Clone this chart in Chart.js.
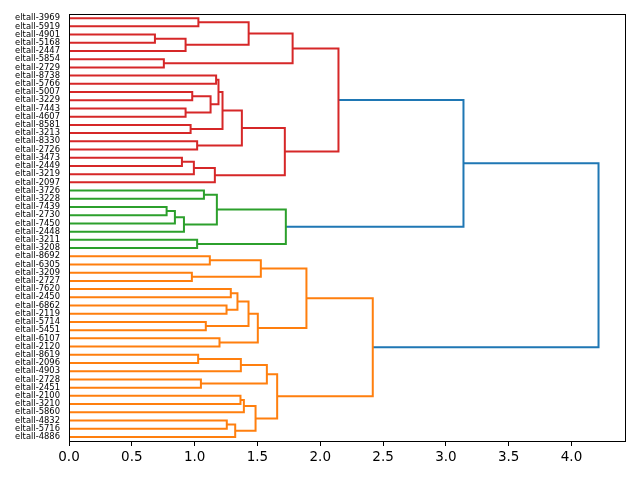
<!DOCTYPE html>
<html lang="en">
  <head>
    <meta charset="UTF-8" />
    <script src="https://cdn.jsdelivr.net/npm/chart.js"></script>
    <title>Dendrogram</title>
    <style>
      body { margin: 0; background: #fff; }
    </style>
  </head>
  <body>
    <canvas id="dendro" width="640" height="480"></canvas>
    <script>
      // leaves, top to bottom
      const leafLabels = [
        "eltall-3969", "eltall-5919", "eltall-4901", "eltall-5168", "eltall-2447",
        "eltall-5854", "eltall-2729", "eltall-8738", "eltall-5766", "eltall-5007",
        "eltall-3229", "eltall-7443", "eltall-4607", "eltall-8581", "eltall-3213",
        "eltall-8330", "eltall-2726", "eltall-3473", "eltall-2449", "eltall-3219",
        "eltall-2097", "eltall-3726", "eltall-3228", "eltall-7439", "eltall-2730",
        "eltall-7450", "eltall-2448", "eltall-3211", "eltall-3208", "eltall-8692",
        "eltall-6305", "eltall-3209", "eltall-2727", "eltall-7620", "eltall-2450",
        "eltall-6862", "eltall-2119", "eltall-5714", "eltall-5451", "eltall-6107",
        "eltall-2120", "eltall-8619", "eltall-2096", "eltall-4903", "eltall-2728",
        "eltall-2451", "eltall-2100", "eltall-3210", "eltall-5860", "eltall-4832",
        "eltall-5716", "eltall-4886"
      ];

      // merges: node ids 0..51 are leaves, merge k creates node 52+k
      const mergeLeft = [
        0, 2, 53, 52, 5, 55, 7, 9, 11, 59, 58, 13, 62, 15, 64, 17, 67, 68, 66, 57,
        21, 23, 73, 74, 72, 27, 76, 71,
        29, 31, 80, 33, 35, 83, 37, 85, 39, 87, 82, 41, 91, 44, 92, 46, 95, 49, 97, 96, 94, 90,
        79
      ];
      const mergeRight = [
        1, 3, 4, 54, 6, 56, 8, 10, 12, 60, 61, 14, 63, 16, 65, 18, 19, 20, 69, 70,
        22, 24, 25, 26, 75, 28, 77, 78,
        30, 32, 81, 34, 36, 84, 38, 86, 40, 88, 89, 42, 43, 45, 93, 47, 48, 50, 51, 98, 99, 100,
        101
      ];
      const mergeHeight = [
        1.03, 0.684, 0.928, 1.43, 0.755, 1.78, 1.171, 0.981, 0.928, 1.127, 1.19, 0.968, 1.222, 1.02, 1.376, 0.899, 0.994, 1.161, 1.718, 2.145,
        1.074, 0.777, 0.843, 0.915, 1.177, 1.02, 1.726, 3.14,
        1.121, 0.978, 1.527, 1.288, 1.254, 1.341, 1.089, 1.429, 1.198, 1.503, 1.89, 1.028, 1.368, 1.05, 1.575, 1.365, 1.392, 1.256, 1.323, 1.485, 1.657, 2.418,
        4.215
      ];
      const mergeGroup = [
        "r", "r", "r", "r", "r", "r", "r", "r", "r", "r", "r", "r", "r", "r", "r", "r", "r", "r", "r", "r",
        "g", "g", "g", "g", "g", "g", "g", "b",
        "o", "o", "o", "o", "o", "o", "o", "o", "o", "o", "o", "o", "o", "o", "o", "o", "o", "o", "o", "o", "o", "o",
        "b"
      ];

      const groupColors = { r: "#d62728", g: "#2ca02c", o: "#ff7f0e", b: "#1f77b4" };

      const n = leafLabels.length;
      const pos = leafLabels.map((_, i) => 10 * i + 5);
      const hgt = leafLabels.map(() => 0);
      const datasets = [];
      mergeHeight.forEach((h, k) => {
        const a = mergeLeft[k], b = mergeRight[k];
        pos.push((pos[a] + pos[b]) / 2);
        hgt.push(h);
        datasets.push({
          data: [
            { x: hgt[a], y: pos[a] },
            { x: h, y: pos[a] },
            { x: h, y: pos[b] },
            { x: hgt[b], y: pos[b] },
          ],
          borderColor: groupColors[mergeGroup[k]],
          borderWidth: 2,
          showLine: true,
          pointRadius: 0,
          fill: false,
          tension: 0,
        });
      });

      const frame = {
        id: "frame",
        afterDraw(chart) {
          const { ctx, chartArea: a } = chart;
          ctx.save();
          ctx.strokeStyle = "#000";
          ctx.lineWidth = 1;
          ctx.strokeRect(Math.round(a.left) + 0.5, Math.round(a.top) + 0.5,
            Math.round(a.right - a.left), Math.round(a.bottom - a.top));
          ctx.restore();
        },
      };

      new Chart(document.getElementById("dendro"), {
        type: "scatter",
        data: { datasets },
        plugins: [frame],
        options: {
          responsive: false,
          animation: false,
          layout: { padding: { left: 0, right: 15, top: 14, bottom: 0 } },
          plugins: { legend: { display: false }, tooltip: { enabled: false } },
          scales: {
            x: {
              type: "linear",
              min: 0,
              max: 4.215 * 1.05,
              grid: { display: true, drawOnChartArea: false, drawTicks: true, tickLength: 5, color: "#000" },
              border: { display: true, color: "#000" },
              ticks: {
                stepSize: 0.5,
                includeBounds: false,
                color: "#000",
                padding: 3,
                maxRotation: 0,
                font: { family: "DejaVu Sans", size: 13.5 },
                callback: (v) => v.toFixed(1),
              },
              afterFit: (s) => { s.height = 39; },
            },
            y: {
              type: "linear",
              min: 0,
              max: 10 * n,
              reverse: true,
              grid: { display: false, drawTicks: false },
              border: { display: true, color: "#000" },
              afterBuildTicks: (s) => {
                s.ticks = leafLabels.map((_, i) => ({ value: 10 * i + 5 }));
              },
              ticks: {
                autoSkip: false,
                color: "#000",
                padding: 9,
                font: { family: "DejaVu Sans", size: 8.4 },
                callback: (v) => leafLabels[(v - 5) / 10],
              },
              afterFit: (s) => { s.width = 69; },
            },
          },
        },
      });
    </script>
  </body>
</html>
